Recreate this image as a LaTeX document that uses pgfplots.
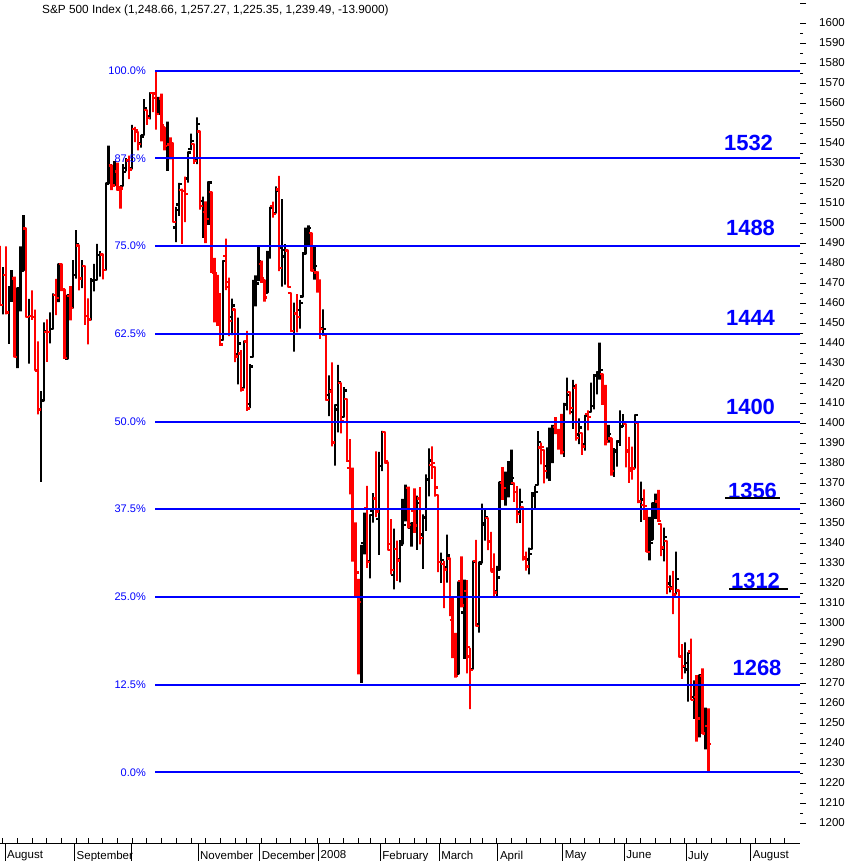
\documentclass[border=0pt]{standalone}
\usepackage{fontspec}
\setmainfont{Liberation Sans}
\usepackage{pgfplots}
\usepackage{pgfplotstable}
\pgfplotsset{compat=1.18}
\pgfplotsset{
  /pgf/number format/1000 sep={},
  /pgf/number format/assume math mode=true,
}
% up days (close above previous close): i open high low close
\pgfplotstableread{
i o h l c
1 1458.93 1477.88 1454.32 1473.91
3 1455.18 1468.38 1439.59 1465.81
4 1465.46 1476.43 1460.58 1472.20
6 1433.04 1467.67 1427.39 1467.67
7 1467.62 1488.30 1455.80 1476.71
8 1476.22 1503.89 1476.22 1497.49
10 1453.09 1462.02 1429.74 1453.64
14 1406.64 1415.97 1370.60 1411.27
15 1411.26 1450.33 1411.26 1445.94
17 1445.55 1455.32 1439.76 1447.12
18 1447.03 1464.86 1447.03 1464.07
20 1462.34 1479.40 1460.44 1479.37
23 1432.01 1463.76 1432.01 1463.76
25 1457.61 1481.47 1457.61 1473.99
26 1473.96 1496.40 1472.15 1489.42
28 1472.03 1481.49 1467.41 1478.55
31 1451.69 1472.48 1451.69 1471.49
32 1471.10 1479.50 1465.75 1471.56
33 1471.47 1489.58 1471.47 1483.95
34 1483.95 1485.99 1473.18 1484.25
36 1476.63 1519.89 1476.63 1519.78
37 1519.75 1538.74 1519.75 1529.03
39 1518.75 1530.89 1518.75 1525.75
42 1518.62 1529.39 1518.62 1525.42
43 1527.32 1532.46 1525.81 1531.38
45 1527.29 1549.02 1527.25 1547.04
48 1539.91 1544.02 1537.63 1542.84
49 1543.84 1561.91 1543.84 1557.59
51 1553.18 1565.26 1551.82 1565.15
54 1555.41 1563.03 1554.09 1561.80
57 1544.44 1550.66 1526.01 1541.24
60 1497.79 1508.06 1490.40 1506.33
61 1509.30 1520.01 1503.61 1519.59
64 1522.17 1535.53 1520.18 1535.28
65 1536.92 1544.67 1536.43 1540.98
67 1532.15 1552.76 1529.40 1549.38
69 1511.07 1513.15 1492.53 1509.65
71 1505.33 1520.77 1499.07 1520.27
76 1441.35 1481.37 1441.35 1481.05
79 1453.09 1462.18 1443.99 1458.74
81 1434.51 1452.64 1419.28 1439.70
83 1417.62 1440.86 1417.62 1440.70
85 1409.59 1429.49 1407.43 1428.23
86 1432.95 1471.62 1432.95 1469.02
87 1467.41 1473.81 1458.36 1469.72
88 1471.83 1488.94 1470.89 1481.14
91 1465.22 1486.09 1465.22 1485.01
92 1484.59 1508.02 1482.19 1507.34
94 1505.11 1518.27 1504.96 1515.96
96 1487.58 1511.96 1468.23 1486.59
97 1483.27 1489.40 1469.21 1488.41
100 1445.92 1460.16 1435.65 1454.98
102 1456.42 1461.53 1447.22 1460.12
103 1463.19 1485.40 1463.19 1484.46
104 1484.55 1497.63 1484.55 1496.45
105 1495.12 1498.85 1488.20 1497.66
107 1479.83 1488.01 1471.70 1478.49
110 1447.55 1456.80 1443.73 1447.16
112 1414.07 1423.87 1403.45 1416.18
114 1390.25 1409.19 1378.70 1409.13
115 1406.78 1429.09 1395.31 1420.33
117 1402.91 1417.89 1402.91 1416.25
123 1310.41 1339.09 1270.05 1338.60
124 1340.13 1355.15 1334.31 1352.07
126 1330.70 1353.97 1322.26 1353.96
127 1355.94 1364.93 1350.19 1362.30
129 1351.98 1385.62 1334.08 1378.55
130 1378.60 1396.02 1375.93 1395.42
134 1324.01 1347.16 1316.75 1336.91
136 1331.92 1341.40 1320.32 1339.13
137 1340.55 1362.10 1339.36 1348.86
138 1353.12 1369.23 1350.78 1367.21
140 1347.52 1350.00 1338.13 1349.99
142 1348.39 1363.71 1336.55 1360.03
144 1344.22 1354.30 1327.04 1353.11
145 1352.75 1374.36 1346.03 1371.80
146 1371.76 1387.34 1363.29 1381.29
150 1330.45 1335.13 1320.04 1331.34
152 1327.69 1344.19 1320.22 1333.70
156 1274.40 1320.65 1274.40 1320.65
158 1305.26 1321.68 1282.11 1315.48
161 1277.16 1330.74 1277.16 1330.74
163 1299.67 1330.67 1295.22 1329.51
164 1330.29 1359.68 1330.29 1349.88
165 1349.07 1357.47 1341.21 1352.99
169 1315.92 1328.52 1312.81 1322.70
170 1326.41 1370.18 1326.41 1370.18
172 1365.69 1375.66 1358.68 1369.31
173 1369.85 1380.91 1362.83 1370.40
174 1373.69 1386.74 1369.02 1372.54
177 1355.37 1367.24 1350.11 1360.55
180 1331.72 1337.72 1324.35 1334.43
181 1337.02 1365.49 1337.02 1364.71
182 1363.37 1368.60 1357.25 1365.56
183 1369.00 1395.90 1369.00 1390.33
186 1378.40 1387.87 1372.24 1379.93
187 1380.52 1397.72 1371.09 1388.82
188 1387.88 1399.11 1379.98 1397.84
192 1385.97 1410.07 1383.07 1409.34
193 1409.16 1422.72 1406.25 1413.90
195 1405.60 1421.57 1397.10 1418.26
197 1394.29 1402.35 1389.39 1397.68
199 1389.40 1404.06 1386.20 1403.58
201 1405.65 1420.19 1405.65 1408.66
202 1408.36 1424.40 1406.87 1423.57
203 1423.89 1425.82 1414.35 1425.35
204 1425.28 1440.24 1421.63 1426.63
207 1390.83 1399.07 1390.23 1394.35
209 1375.97 1387.40 1373.07 1385.35
210 1386.54 1391.25 1378.16 1390.84
211 1390.50 1406.32 1388.59 1398.26
212 1398.36 1404.46 1398.08 1400.38
216 1377.48 1404.05 1377.48 1404.05
218 1360.83 1370.63 1350.62 1361.76
221 1335.78 1353.03 1331.29 1339.87
222 1341.81 1360.03 1341.71 1360.03
223 1358.85 1364.70 1352.07 1360.14
226 1336.89 1347.66 1330.78 1342.83
228 1319.77 1323.78 1315.31 1318.00
230 1314.54 1335.63 1314.54 1321.97
233 1278.06 1290.31 1274.86 1280.00
234 1276.69 1285.31 1260.68 1284.91
236 1262.96 1271.34 1252.01 1262.90
238 1251.84 1274.17 1242.84 1273.70
240 1245.25 1257.65 1236.76 1253.39
}\upbars
% down days
\pgfplotstableread{
i o h l c
0 1482.66 1488.53 1458.95 1458.95
2 1473.90 1488.30 1454.25 1455.27
5 1472.18 1473.23 1432.80 1433.06
9 1497.21 1497.21 1453.09 1453.09
11 1453.42 1466.29 1451.54 1452.92
12 1452.87 1456.74 1426.20 1426.54
13 1426.15 1440.78 1404.36 1406.70
16 1445.55 1451.75 1430.54 1445.55
19 1464.05 1472.06 1453.88 1462.50
21 1479.36 1479.36 1465.98 1466.79
22 1466.72 1466.72 1432.01 1432.36
24 1463.67 1468.43 1451.25 1457.64
27 1488.76 1488.76 1466.34 1472.29
29 1478.55 1478.55 1449.07 1453.55
30 1453.50 1462.25 1439.29 1451.70
35 1484.24 1484.24 1471.82 1476.65
38 1528.69 1529.14 1516.42 1518.75
40 1525.75 1530.18 1516.15 1517.73
41 1516.34 1518.27 1507.13 1517.21
44 1531.24 1533.74 1521.99 1526.75
46 1546.96 1548.01 1540.37 1546.63
47 1545.80 1545.84 1536.34 1539.59
50 1556.51 1556.51 1549.00 1552.58
52 1564.98 1565.42 1555.46 1562.47
53 1564.72 1576.09 1546.72 1554.41
55 1562.25 1564.74 1540.81 1548.71
56 1547.81 1547.81 1536.29 1538.53
58 1539.29 1542.79 1531.76 1540.08
59 1540.00 1540.00 1500.26 1500.63
62 1516.61 1517.23 1489.56 1515.88
63 1516.15 1523.24 1500.46 1514.40
66 1539.42 1539.42 1529.55 1531.02
68 1545.79 1545.79 1506.66 1508.44
70 1505.61 1510.84 1489.95 1502.17
72 1515.46 1515.46 1475.04 1475.62
73 1475.27 1482.50 1450.31 1474.77
74 1467.59 1474.09 1448.51 1453.70
75 1453.66 1464.94 1438.53 1439.18
77 1483.40 1492.14 1466.47 1470.58
78 1468.04 1472.67 1443.49 1451.15
80 1456.70 1456.70 1430.42 1433.27
82 1434.71 1436.40 1415.64 1416.77
84 1440.74 1446.09 1406.10 1407.22
89 1479.63 1481.16 1470.08 1472.42
90 1471.34 1471.34 1460.66 1462.79
93 1508.60 1510.63 1502.66 1504.66
95 1516.68 1523.57 1475.99 1477.65
98 1486.19 1486.67 1467.78 1467.95
99 1465.05 1465.05 1445.43 1445.90
101 1454.70 1464.42 1445.31 1453.00
106 1495.05 1495.05 1475.86 1476.27
108 1475.25 1475.83 1465.13 1468.36
109 1467.97 1471.77 1442.07 1447.16
111 1444.01 1444.01 1411.19 1411.63
113 1415.71 1430.28 1388.30 1390.19
116 1419.91 1419.91 1394.83 1401.02
118 1411.88 1411.88 1380.60 1380.95
119 1377.41 1391.99 1364.27 1373.20
120 1374.79 1377.72 1330.67 1333.25
121 1333.90 1350.28 1312.51 1325.19
122 1312.94 1322.09 1274.29 1310.50
125 1357.32 1368.56 1327.50 1330.61
128 1362.22 1385.86 1352.95 1355.81
131 1395.38 1395.38 1379.69 1380.82
132 1380.28 1380.28 1336.64 1336.64
133 1339.48 1351.96 1324.34 1326.45
135 1336.88 1341.22 1321.06 1331.29
139 1367.33 1368.16 1347.31 1348.86
141 1355.86 1367.28 1345.05 1348.78
143 1362.21 1367.94 1339.34 1342.53
147 1378.95 1388.34 1372.00 1380.02
148 1378.16 1378.16 1363.16 1367.68
149 1364.07 1364.07 1325.42 1330.63
151 1329.58 1331.03 1307.39 1326.75
153 1332.20 1332.20 1303.42 1304.34
154 1301.53 1313.24 1282.43 1293.37
155 1293.16 1295.01 1272.66 1273.37
157 1321.13 1333.26 1307.86 1308.77
159 1316.05 1321.47 1274.86 1288.14
160 1283.21 1287.50 1256.98 1276.60
162 1330.97 1341.51 1298.42 1298.42
166 1352.45 1352.45 1336.41 1341.13
167 1340.34 1345.62 1325.66 1325.76
168 1327.02 1334.87 1312.95 1315.22
171 1369.96 1377.95 1361.55 1367.53
175 1370.16 1370.16 1360.62 1365.54
176 1365.50 1368.39 1349.97 1354.49
178 1357.98 1357.98 1331.21 1332.83
179 1332.20 1335.64 1326.16 1328.32
184 1387.72 1390.23 1379.25 1388.17
185 1386.43 1386.43 1369.84 1375.94
189 1397.96 1402.90 1394.40 1396.37
190 1395.61 1397.00 1386.70 1390.94
191 1391.22 1404.57 1384.25 1385.59
194 1415.34 1415.34 1404.37 1407.49
196 1417.49 1419.54 1391.16 1392.57
198 1394.90 1394.90 1384.11 1388.28
200 1404.40 1406.30 1396.26 1403.04
205 1424.49 1424.49 1409.09 1413.40
206 1414.06 1419.12 1388.81 1390.71
208 1392.20 1392.20 1373.72 1375.93
213 1399.62 1399.62 1377.79 1385.67
214 1386.42 1393.12 1370.12 1377.65
215 1376.26 1388.18 1371.74 1377.20
217 1400.06 1400.06 1359.90 1360.68
219 1358.98 1366.84 1351.56 1358.44
220 1357.09 1357.09 1335.47 1335.49
224 1360.71 1366.59 1350.54 1350.93
225 1349.59 1349.59 1333.40 1337.81
227 1341.02 1341.02 1314.46 1317.93
229 1317.23 1326.02 1304.42 1314.29
231 1316.29 1316.29 1283.15 1283.15
232 1283.60 1289.45 1272.00 1278.38
235 1285.82 1292.17 1261.51 1261.52
237 1262.90 1273.95 1240.68 1252.31
239 1273.38 1277.36 1244.57 1244.69
241 1248.66 1257.27 1225.35 1239.49
}\dnbars
\pgfplotsset{
  geom/.style={at={(0pt,0pt)}, anchor=south west, scale only axis,
    width=800pt, height=843pt, xmin=0.054, xmax=272.17},
  fib/.style={blue, line width=2pt, forget plot},
}
% one OHLC bar per table row: open tick left, high-low line, close tick right
\newcommand\drawbars[2]{%
  \pgfplotstablegetrowsof{#1}%
  \pgfmathtruncatemacro\nrows{\pgfplotsretval-1}%
  \pgfplotsforeachungrouped \r in {0,...,\nrows}{%
    \pgfplotstablegetelem{\r}{i}\of{#1}\let\bi\pgfplotsretval
    \pgfplotstablegetelem{\r}{o}\of{#1}\let\bo\pgfplotsretval
    \pgfplotstablegetelem{\r}{h}\of{#1}\let\bh\pgfplotsretval
    \pgfplotstablegetelem{\r}{l}\of{#1}\let\bl\pgfplotsretval
    \pgfplotstablegetelem{\r}{c}\of{#1}\let\bc\pgfplotsretval
    \pgfmathsetmacro\bxl{\bi-1}%
    \pgfmathsetmacro\bxr{\bi+1}%
    \edef\tmp{\noexpand\addplot[draw=#2, line width=2.3pt, line join=bevel,
      line cap=butt, mark=none, forget plot] coordinates
      {(\bxl,\bo) (\bi,\bo) (\bi,\bh) (\bi,\bl) (\bi,\bc) (\bxr,\bc)};}%
    \tmp
  }%
}
\begin{document}
\begin{tikzpicture}
\path[use as bounding box] (0pt,-18pt) rectangle (849pt,843pt);
% weekly ticks
\begin{axis}[geom, ymin=0, ymax=1, hide y axis, axis x line*=bottom,
  x axis line style={line width=0.8pt},
  xtick={1,6,11,16,21,26,30,35,40,45,50,55,60,65,70,75,80,84,89,94,99,104,108,112,117,122,126,131,136,141,145,150,155,160,164,169,174,179,184,189,194,199,204,209,213,218,223,228,233,237,242,247,252,257,262,267},
  xticklabel={\relax}, tick align=inside, major tick length=5pt,
  tick style={black, line width=0.8pt}]
\end{axis}
% month separators and labels
\begin{axis}[geom, ymin=0, ymax=1, hide y axis, axis x line*=bottom,
  x axis line style={line width=0.8pt},
  xtick={1.75,25.4,44.6,67.4,88.4,108.4,129.4,149.4,169.4,191.4,212.4,233.4,255.4},
  xticklabels={August,September,{},November,December,2008,February,March,April,May,June,July,August},
  tick align=outside, major tick length=18pt,
  tick style={black, line width=0.8pt},
  xticklabel style={anchor=north west, inner sep=0pt, xshift=2pt, yshift=10.5pt,
    font=\fontsize{11.5}{13}\selectfont}]
\end{axis}
% main chart
\begin{axis}[geom, ymin=1190, ymax=1611.5,
  axis x line=none, axis y line*=right, y axis line style={draw=none},
  ytick={1200,1210,...,1600}, minor y tick num=1,
  extra y ticks={1610}, extra y tick labels={},
  tick align=outside, major tick length=6pt, minor tick length=3pt,
  tick style={black, line width=0.8pt},
  yticklabel style={anchor=west, inner sep=0pt, xshift=13pt,
    font=\fontsize{11.5}{13}\selectfont}]
\drawbars{\upbars}{black}
\drawbars{\dnbars}{red}
% Fibonacci retracement levels
\addplot[fib] coordinates {(52.8,1576.09) (272.2,1576.09)};
\addplot[fib] coordinates {(52.8,1532.25) (272.2,1532.25)};
\addplot[fib] coordinates {(52.8,1488.41) (272.2,1488.41)};
\addplot[fib] coordinates {(52.8,1444.56) (272.2,1444.56)};
\addplot[fib] coordinates {(52.8,1400.72) (272.2,1400.72)};
\addplot[fib] coordinates {(52.8,1356.88) (272.2,1356.88)};
\addplot[fib] coordinates {(52.8,1313.04) (272.2,1313.04)};
\addplot[fib] coordinates {(52.8,1269.19) (272.2,1269.19)};
\addplot[fib] coordinates {(52.8,1225.35) (272.2,1225.35)};
\end{axis}
% text
\node[anchor=west, inner sep=0pt, font=\fontsize{11.8}{13}\selectfont] at (42pt,833pt)
  {S\&P 500 Index (1,248.66, 1,257.27, 1,225.35, 1,239.49, -13.9000)};
\begin{scope}[every node/.style={anchor=east, inner sep=0pt, text=blue, font=\fontsize{11}{12}\selectfont}]
\node at (146pt,772.2pt) {100.0\%};
\node at (146pt,684.5pt) {87.5\%};
\node at (146pt,596.8pt) {75.0\%};
\node at (146pt,509.1pt) {62.5\%};
\node at (146pt,421.4pt) {50.0\%};
\node at (146pt,333.8pt) {37.5\%};
\node at (146pt,246.1pt) {25.0\%};
\node at (146pt,158.4pt) {12.5\%};
\node at (146pt,70.7pt) {0.0\%};
\end{scope}
\begin{scope}[every node/.style={inner sep=0pt, text=blue, font=\fontsize{22}{24}\bfseries\selectfont}]
\node at (748.5pt,700pt) {1532};
\node at (750.5pt,615pt) {1488};
\node at (750.5pt,525pt) {1444};
\node at (750.5pt,436pt) {1400};
\node at (752.5pt,352pt) {1356};
\node at (755.5pt,262pt) {1312};
\node at (757pt,175pt) {1268};
\end{scope}
\draw[black, line width=2pt] (725pt,345pt) -- (780pt,345pt);
\draw[black, line width=2pt] (729pt,254pt) -- (788pt,254pt);
\end{tikzpicture}
\end{document}
